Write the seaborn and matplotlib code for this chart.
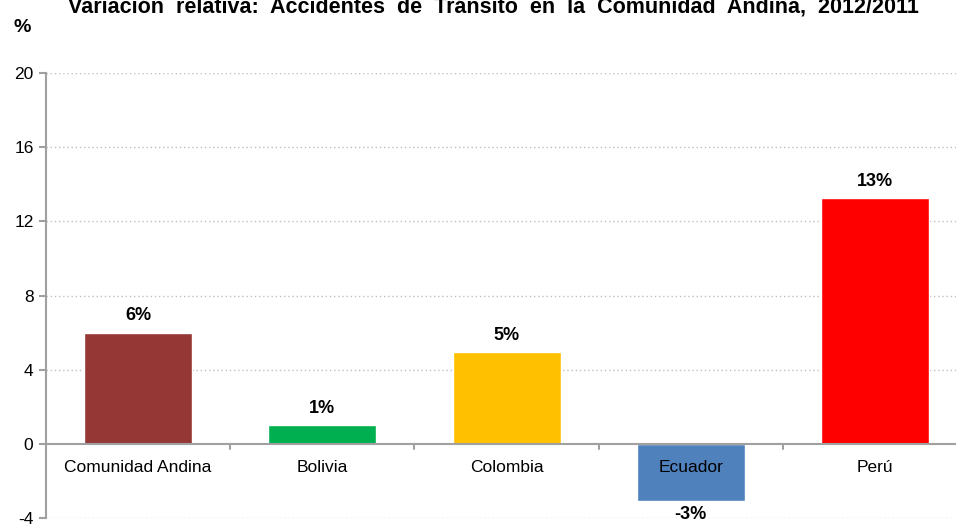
import matplotlib
matplotlib.use("Agg")
import matplotlib.pyplot as plt
import seaborn as sns
import pandas as pd

categories = ["Comunidad Andina", "Bolivia", "Colombia", "Ecuador", "Perú"]
values = [6.0, 1.0, 4.95, -3.1, 13.25]
labels = ["6%", "1%", "5%", "-3%", "13%"]
colors = ["#953735", "#00B050", "#FFC000", "#4F81BD", "#FF0000"]
yticks = [-4, 0, 4, 8, 12, 16, 20]
title = "Variación  relativa:  Accidentes  de  Tránsito  en  la  Comunidad  Andina,  2012/2011"

sns.set_style("white")
plt.rcParams["font.family"] = ["Liberation Sans", "DejaVu Sans"]
plt.rcParams["text.color"] = "black"
plt.rcParams["ytick.labelcolor"] = "black"

fig = plt.figure(figsize=(9.56, 5.25), dpi=100)
ax = fig.add_axes([46 / 956, 7 / 525, 1 - 46 / 956, (518 - 73) / 525])

df = pd.DataFrame({"cat": categories, "val": values})
sns.barplot(data=df, x="cat", y="val", hue="cat", palette=colors,
            width=0.586, legend=False, ax=ax, saturation=1, zorder=3)

ax.set_ylim(-4, 20)
ax.set_xlim(-0.5, 4.44)
ax.set_yticks(yticks)
ax.set_yticklabels([str(t) for t in yticks], fontsize=12.5, color="black")
ax.set_xticks([])
ax.set_xlabel("")
ax.set_ylabel("")

for t in yticks:
    if t != 0:
        ax.axhline(t, color="#BFBFBF", linestyle=(0, (1, 2)), linewidth=1, zorder=1)
ax.axhline(0, color="#A0A0A0", linewidth=1.5, zorder=4)
for b in [0.5, 1.5, 2.5, 3.5]:
    ax.plot([b, b], [0, -0.3], color="#A0A0A0", linewidth=1.5, zorder=4, clip_on=False)

for s in ["top", "right", "bottom"]:
    ax.spines[s].set_visible(False)
ax.spines["left"].set_color("#A0A0A0")
ax.spines["left"].set_linewidth(1.5)
ax.tick_params(axis="y", left=True, length=5, width=1.5, color="#A0A0A0", pad=4)

for i, (c, v, lab) in enumerate(zip(categories, values, labels)):
    ax.text(i, -1.25, c, ha="center", va="center", fontsize=12.5, zorder=5, color="black")
    if v >= 0:
        ax.text(i, v + 0.45, lab, ha="center", va="bottom", fontsize=13,
                fontweight="bold", zorder=5, color="black")
    else:
        ax.text(i, v - 0.25, lab, ha="center", va="top", fontsize=13,
                fontweight="bold", zorder=5, color="black")

fig.text(493 / 956, 1 - 13 / 525, title, ha="center", va="baseline",
         fontsize=15.5, fontweight="bold", color="black")
fig.text(22 / 956, 1 - 28 / 525, "%", ha="center", va="center",
         fontsize=14, fontweight="bold", color="black")

fig.savefig("out.png", dpi=100)
